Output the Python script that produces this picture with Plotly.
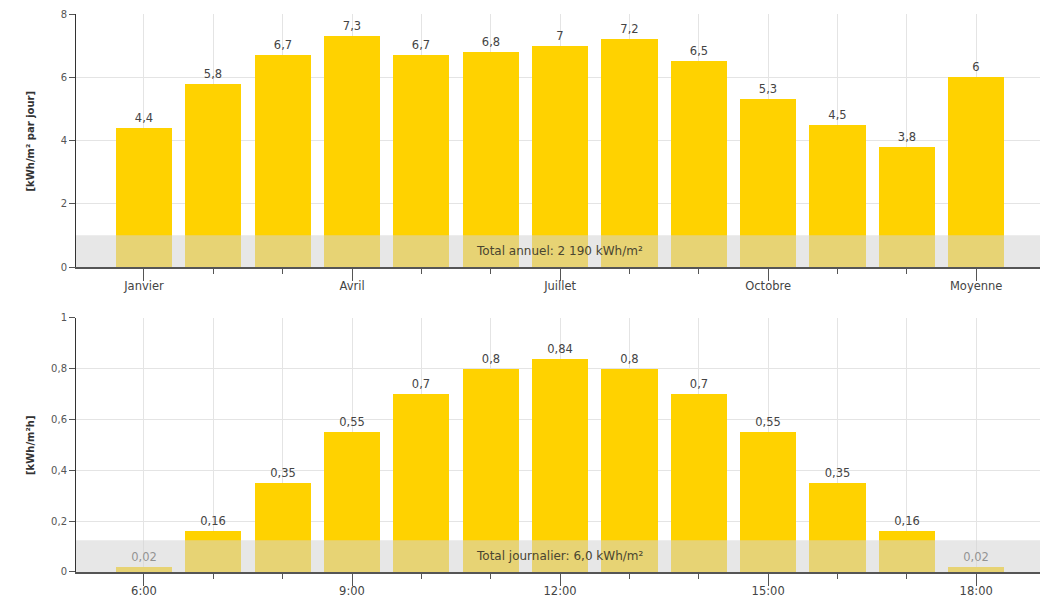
import plotly.graph_objects as go

# Monthly mean daily irradiation (kWh/m² per day) plus annual mean
months = ["Janvier", "Février", "Mars", "Avril", "Mai", "Juin", "Juillet",
          "Août", "Septembre", "Octobre", "Novembre", "Décembre", "Moyenne"]
monthly_values = [4.4, 5.8, 6.7, 7.3, 6.7, 6.8, 7.0, 7.2, 6.5, 5.3, 4.5, 3.8, 6.0]
month_labels_shown = ["Janvier", "Avril", "Juillet", "Octobre", "Moyenne"]

# Hourly irradiation profile of a mean day (kWh/m²h)
hours = ["6:00", "7:00", "8:00", "9:00", "10:00", "11:00", "12:00",
         "13:00", "14:00", "15:00", "16:00", "17:00", "18:00"]
hourly_values = [0.02, 0.16, 0.35, 0.55, 0.7, 0.8, 0.84, 0.8, 0.7, 0.55, 0.35, 0.16, 0.02]
hour_labels_shown = ["6:00", "9:00", "12:00", "15:00", "18:00"]

annual_total = "Total annuel: 2 190 kWh/m²"
daily_total = "Total journalier: 6,0 kWh/m²"

FONT = "DejaVu Sans"
BAR = "#FFD200"
GRID = "#e4e4e4"
TXT = 11.5


def fr(v):
    return f"{v:g}".replace(".", ",")


fig = go.Figure()

fig.add_trace(go.Bar(
    x=list(range(len(months))), y=monthly_values,
    text=[fr(v) for v in monthly_values], textposition="outside",
    textfont=dict(family=FONT, size=TXT, color="#444"),
    marker=dict(color=BAR, line=dict(width=0)), width=0.81,
    cliponaxis=False, xaxis="x", yaxis="y", showlegend=False,
))
fig.add_trace(go.Bar(
    x=list(range(len(hours))), y=hourly_values,
    text=[fr(v) for v in hourly_values], textposition="outside",
    textfont=dict(family=FONT, size=TXT, color="#444"),
    marker=dict(color=BAR, line=dict(width=0)), width=0.81,
    cliponaxis=False, xaxis="x2", yaxis="y2", showlegend=False,
))

xrange = [-0.98, 12.92]


def xaxis(cats, shown, anchor):
    idx = [cats.index(c) for c in shown]
    return dict(
        range=xrange, anchor=anchor, tickmode="array", tickvals=idx, ticktext=shown,
        ticks="outside", ticklen=12, tickcolor="#555", tickwidth=1,
        ticklabelstandoff=-5,
        showgrid=True, gridcolor=GRID, gridwidth=1, zeroline=False,
        showline=True, linecolor="#555", linewidth=2,
        tickfont=dict(family=FONT, size=TXT, color="#444"),
        minor=dict(ticks="outside", ticklen=5, tickcolor="#555", dtick=1, tick0=0,
                   showgrid=True, gridcolor=GRID),
        automargin=False, fixedrange=True,
    )


def yaxis(rng, dtick, domain, anchor):
    return dict(
        range=rng, dtick=dtick, domain=domain, anchor=anchor,
        ticks="outside", ticklen=6, tickcolor="#555",
        showgrid=True, gridcolor=GRID, zeroline=False,
        showline=True, linecolor="#333", linewidth=1,
        tickfont=dict(family=FONT, size=10, color="#555"),
        automargin=False, fixedrange=True,
    )


fig.update_layout(
    width=1040, height=597,
    margin=dict(l=76, r=0, t=14, b=25),
    paper_bgcolor="white", plot_bgcolor="white",
    separators=", ",
    bargap=0,
    xaxis=xaxis(months, month_labels_shown, "y"),
    yaxis=yaxis([0, 8], 2, [0.5466, 1.0], "x"),
    xaxis2=xaxis(hours, hour_labels_shown, "y2"),
    yaxis2=yaxis([0, 1], 0.2, [0.0, 0.4552], "x2"),
    shapes=[
        dict(type="rect", xref="x domain", yref="y", x0=0, x1=1, y0=0, y1=1.0,
             fillcolor="rgba(212,212,212,0.55)", line=dict(width=0), layer="above"),
        dict(type="rect", xref="x2 domain", yref="y2", x0=0, x1=1, y0=0, y1=0.125,
             fillcolor="rgba(212,212,212,0.55)", line=dict(width=0), layer="above"),
    ],
    annotations=[
        dict(text=annual_total, xref="x domain", yref="y", x=0.502, y=0.5,
             showarrow=False, font=dict(family=FONT, size=12, color="#4a4530")),
        dict(text=daily_total, xref="x2 domain", yref="y2", x=0.502, y=0.0625,
             showarrow=False, font=dict(family=FONT, size=12, color="#4a4530")),
        dict(text="<b>[kWh/m² par jour]</b>", xref="paper", yref="y", x=-0.0467, y=4,
             textangle=-90, showarrow=False, xanchor="center", yanchor="middle",
             font=dict(family=FONT, size=10, color="#333")),
        dict(text="<b>[kWh/m²h]</b>", xref="paper", yref="y2", x=-0.0467, y=0.5,
             textangle=-90, showarrow=False, xanchor="center", yanchor="middle",
             font=dict(family=FONT, size=10, color="#333")),
    ],
)

fig.write_html("out.html")
